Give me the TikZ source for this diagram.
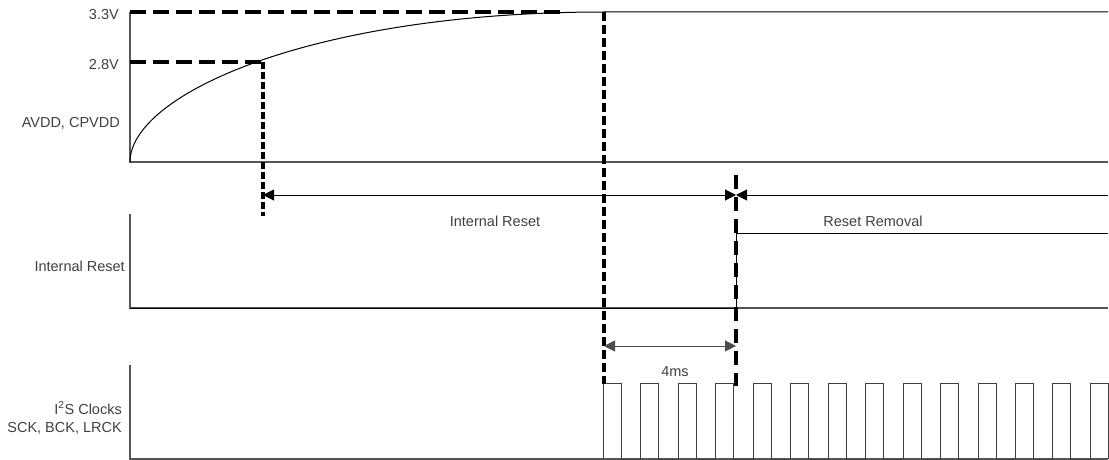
\documentclass[tikz,border=0pt]{standalone}
\usepackage{fontspec}
\setmainfont{Liberation Sans}
\usetikzlibrary{arrows.meta}
\definecolor{txtgray}{HTML}{404040}
\definecolor{axgray}{HTML}{555555}
\begin{document}
\begin{tikzpicture}[x=1pt,y=-1pt,
  lbl/.style={text=txtgray,font=\fontsize{14.5}{16}\selectfont,inner sep=0pt},
  axisline/.style={draw=axgray,line width=1.3pt},
  sig/.style={draw=black,line width=1pt},
  clk/.style={draw=black!75,line width=1pt},
  hdash/.style={draw=black,line width=4pt,dash pattern=on 16pt off 7pt},
  vdashA/.style={draw=black,line width=4pt,dash pattern=on 7pt off 3pt},
  vdashB/.style={draw=black,line width=4pt,dash pattern=on 9pt off 4pt},
  vdashC/.style={draw=black,line width=4pt,dash pattern=on 14pt off 8pt},
  dim/.style={draw=black,line width=1pt},
  tip/.style={-{Triangle[length=11pt,width=11pt]}},
  tips/.style={{Triangle[length=11pt,width=11pt]}-{Triangle[length=11pt,width=11pt]}}]
\useasboundingbox (0,0) rectangle (1109,460);

% ---- coordinates
\coordinate (a1top) at (130,12);
\coordinate (a1o) at (130,162);
\coordinate (a1end) at (1108,162);
\coordinate (v33) at (604,12);
\coordinate (v33end) at (1108,12);
\coordinate (d33end) at (566,12);
\coordinate (v28) at (263,62);
\coordinate (y28) at (130,62);
\coordinate (x28b) at (263,216);
\coordinate (xclk) at (604,384);
\coordinate (xrtop) at (736,175);
\coordinate (xrbot) at (736,386);
\coordinate (arL) at (263,195);
\coordinate (arM) at (736,195);
\coordinate (arR) at (1108,195);
\coordinate (a2top) at (130,214);
\coordinate (a2o) at (130,308);
\coordinate (a2end) at (1108,308);
\coordinate (rs0) at (736,308);
\coordinate (rs1) at (736,233);
\coordinate (rs2) at (1108,233);
\coordinate (msL) at (604,346);
\coordinate (msR) at (736,346);
\coordinate (a3top) at (130,365);
\coordinate (a3o) at (130,459);
\coordinate (a3end) at (1108,459);

% ---- labels
\node[lbl,anchor=east] (l33) at (119,15) {3.3V};
\node[lbl,anchor=east] (l28) at (119,65) {2.8V};
\node[lbl,anchor=east] (lav) at (120,123) {AVDD, CPVDD};
\node[lbl,anchor=east] (lir) at (125,266) {Internal Reset};
\node[lbl,anchor=east] (li2s) at (122,408) {I\textsuperscript{2}S Clocks};
\node[lbl,anchor=east] (lsck) at (122,428) {SCK, BCK, LRCK};
\node[lbl] (tir) at (495,221) {Internal Reset};
\node[lbl] (trr) at (873,221) {Reset Removal};
\node[lbl] (t4ms) at (675,372) {4ms};

% ---- axes
\draw[axisline] (a1top) -- (a1o) -- (a1end);
\draw[axisline] (a2top) -- (a2o) -- (a2end);
\draw[axisline] (a3top) -- (a3o) -- (a3end);

% ---- supply ramp
\draw[sig] (a1o) .. controls (130,95) and (310,12) .. (v33) -- (v33end);

% ---- reset signal
\draw[sig] (a2o) -- (rs0) -- (rs1) -- (rs2);

% ---- clocks
\draw[clk] (603.5,459)
  \foreach \k in {0,...,13} {
    -- ({603.5+37.45*\k},383) -- ({621.5+37.45*\k},383) -- ({621.5+37.45*\k},459)
    \ifnum\k<13 -- ({603.5+37.45*(\k+1)},459)\fi
  };

% ---- dashed markers
\draw[hdash] (a1top) -- (d33end);
\draw[hdash] (y28) -- (v28);
\draw[vdashA] (v28) -- (x28b);
\draw[vdashB] (v33) -- (xclk);
\draw[vdashC] (xrtop) -- (xrbot);

% ---- dimension arrows
\draw[dim,tips] (arL) -- (arM);
\draw[dim,tip] (arR) -- (arM);
\draw[dim,draw=black!70,tips] (msL) -- (msR);
\end{tikzpicture}
\end{document}
